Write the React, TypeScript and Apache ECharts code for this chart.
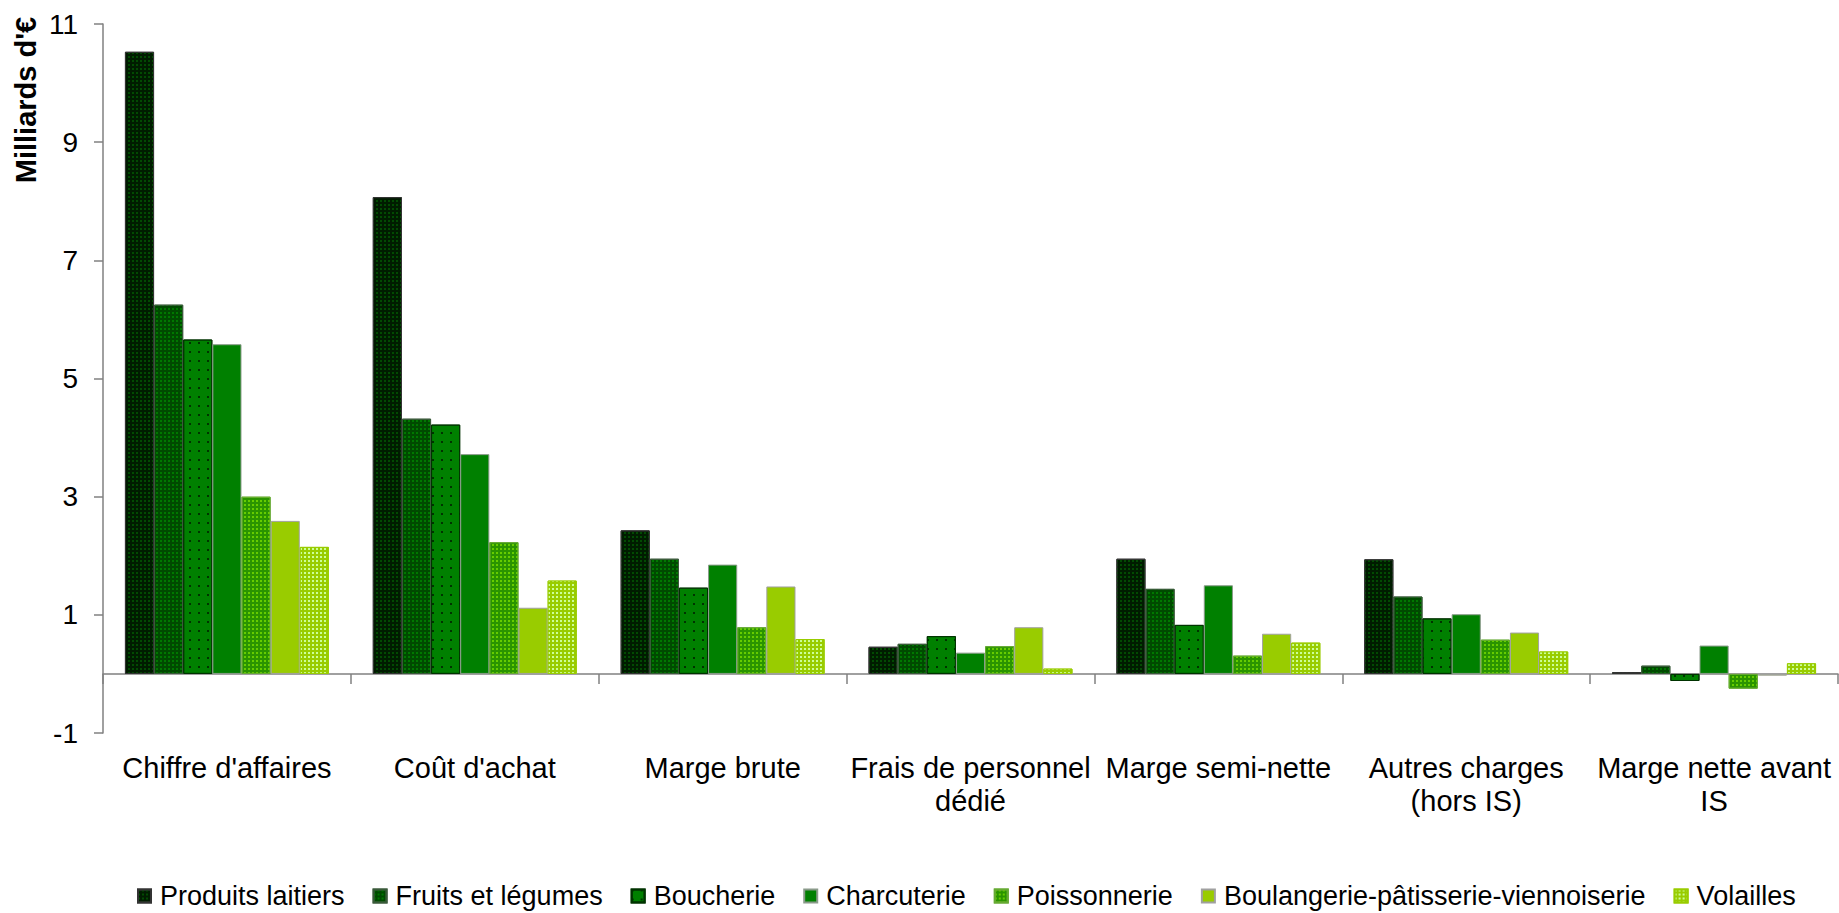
import React, { useEffect, useRef } from "react";
import * as echarts from "echarts";

const categories = [
  "Chiffre d'affaires",
  "Coût d'achat",
  "Marge brute",
  "Frais de personnel\ndédié",
  "Marge semi-nette",
  "Autres charges\n(hors IS)",
  "Marge nette avant\nIS",
];

const seriesNames = [
  "Produits laitiers",
  "Fruits et légumes",
  "Boucherie",
  "Charcuterie",
  "Poissonnerie",
  "Boulangerie-pâtisserie-viennoiserie",
  "Volailles",
];

const produitsLaitiers = [10.53, 8.07, 2.43, 0.46, 1.95, 1.94, 0.03];
const fruitsLegumes = [6.25, 4.32, 1.95, 0.51, 1.44, 1.31, 0.14];
const boucherie = [5.66, 4.22, 1.46, 0.64, 0.83, 0.94, -0.12];
const charcuterie = [5.58, 3.72, 1.85, 0.36, 1.5, 1.01, 0.48];
const poissonnerie = [3.0, 2.23, 0.79, 0.47, 0.31, 0.58, -0.25];
const boulangerie = [2.59, 1.12, 1.48, 0.79, 0.68, 0.7, -0.03];
const volailles = [2.15, 1.58, 0.59, 0.09, 0.53, 0.38, 0.18];

const yTicks = { min: -1, max: 11, interval: 2 };

const FONT = "'Liberation Sans', Arial, sans-serif";

const styles = [
  { color: "#001c00", border: "#333333", decal: { color: "#024a02", dx: [2, 2], dy: [2, 2] } },
  { color: "#004a00", border: "#3a5a3a", decal: { color: "#007800", dx: [2, 2], dy: [2, 2] } },
  { color: "#008000", border: "#003300", decal: { color: "#003300", dx: [2, 7], dy: [2, 7] } },
  { color: "#008000", border: "#8a9a8a", decal: null },
  { color: "#2a9400", border: "#66aa33", decal: { color: "#66cc00", dx: [2, 2], dy: [2, 2] } },
  { color: "#99cc00", border: "#a0a0a0", decal: null },
  { color: "#99cc00", border: "#99cc00", decal: { color: "#ccff99", dx: [2, 2], dy: [2, 2] } },
];

export default function App() {
  const ref = useRef<HTMLDivElement>(null);
  useEffect(() => {
    if (!ref.current) return;
    const chart = echarts.init(ref.current, undefined, { renderer: "svg" });
    const data = [
      produitsLaitiers,
      fruitsLegumes,
      boucherie,
      charcuterie,
      poissonnerie,
      boulangerie,
      volailles,
    ];
    const series = seriesNames.map((name, i) => {
      const s = styles[i];
      const itemStyle: any = {
        color: s.color,
        borderColor: s.border,
        borderWidth: 1,
      };
      if (s.decal) {
        itemStyle.decal = {
          symbol: "rect",
          symbolSize: 1,
          dashArrayX: s.decal.dx,
          dashArrayY: s.decal.dy,
          color: s.decal.color,
        };
      }
      return {
        name,
        type: "bar",
        data: data[i],
        barGap: "0%",
        barCategoryGap: "17.7%",
        itemStyle,
        emphasis: { disabled: true },
      };
    });
    chart.setOption({
      animation: false,
      backgroundColor: "#ffffff",
      textStyle: { fontFamily: FONT },
      grid: { left: 103, right: 1, top: 24, bottom: 180, containLabel: false },
      legend: {
        data: seriesNames,
        left: 137,
        top: 881,
        padding: 0,
        icon: "rect",
        itemWidth: 13,
        itemHeight: 13,
        itemGap: 28,
        textStyle: { fontSize: 27, lineHeight: 30, color: "#000", fontFamily: FONT, padding: [0, 0, 0, 4] },
      },
      xAxis: {
        type: "category",
        data: categories,
        axisLine: { show: true, onZero: true, lineStyle: { color: "#808080", width: 1.5 } },
        axisTick: { show: true, length: 10, lineStyle: { color: "#808080", width: 1.5 } },
        axisLabel: {
          margin: 18,
          fontSize: 29,
          color: "#000",
          fontFamily: FONT,
          lineHeight: 33,
          interval: 0,
        },
        splitLine: { show: false },
      },
      yAxis: {
        type: "value",
        min: yTicks.min,
        max: yTicks.max,
        interval: yTicks.interval,
        axisLine: { show: true, lineStyle: { color: "#808080", width: 1.5 } },
        axisTick: { show: true, length: 9, lineStyle: { color: "#808080", width: 1.5 } },
        axisLabel: { margin: 25, fontSize: 28, color: "#000", fontFamily: FONT },
        splitLine: { show: false },
      },
      graphic: [
        {
          type: "text",
          x: 26,
          y: 100,
          rotation: Math.PI / 2,
          style: {
            text: "Milliards d'€",
            font: `bold 29px ${FONT}`,
            fill: "#000",
            align: "center",
            verticalAlign: "middle",
          },
        },
      ],
      series,
    });
    return () => chart.dispose();
  }, []);
  return (
    <div
      ref={ref}
      style={{ position: "absolute", left: 0, top: 0, width: 1839, height: 913 }}
    />
  );
}
